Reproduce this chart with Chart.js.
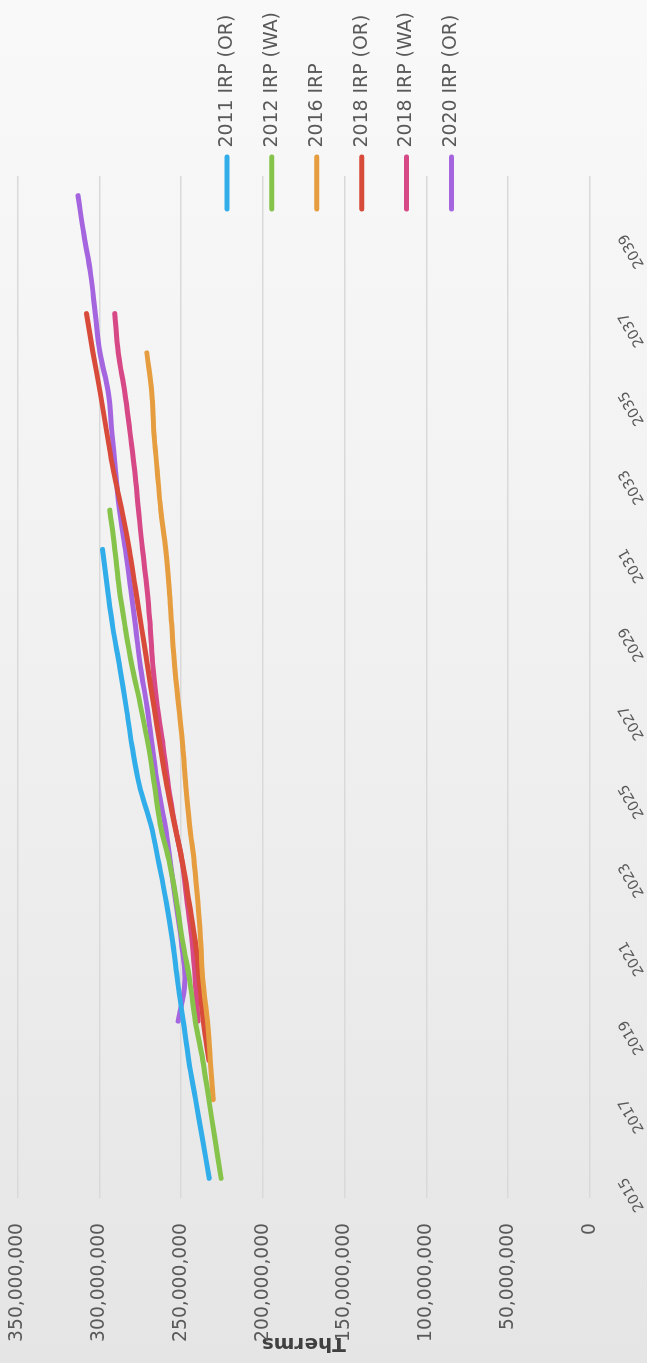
<!DOCTYPE html>
<html>
<head>
<meta charset="utf-8">
<title>Therms forecast by IRP</title>
<script src="https://cdn.jsdelivr.net/npm/chart.js@4.4.1/dist/chart.umd.min.js"></script>
<style>
  html, body { margin: 0; padding: 0; width: 647px; height: 1363px; overflow: hidden; }
  body { background: linear-gradient(to bottom, #f9f9f9 0%, #f1f1f1 45%, #e5e5e5 100%); }
  /* chart is laid out landscape and turned a quarter turn counter-clockwise */
  #wrap {
    position: absolute; left: 0; top: 0;
    width: 1363px; height: 647px;
    transform-origin: 0 0;
    transform: translate(0, 1363px) rotate(-90deg);
  }
</style>
</head>
<body>
<div id="wrap"><canvas id="thermsChart" width="1363" height="647"></canvas></div>
<script>
// years on the category axis (only every other one gets a label)
const years = ['2015', '2016', '2017', '2018', '2019', '2020', '2021', '2022', '2023', '2024', '2025', '2026', '2027',
  '2028', '2029', '2030', '2031', '2032', '2033', '2034', '2035', '2036', '2037', '2038', '2039', '2040'];

// annual therms, in millions
const irp2011OR = [232.8, 236.9, 241.1, 245.3, 248.7, 252.1, 255.1, 258.9, 263.5, 268.5, 275.5, 280.0, 283.6,
  287.5, 291.7, 295.0, 298.0, null, null, null, null, null, null, null, null, null];
const irp2012WA = [225.5, 229.3, 233.0, 236.7, 241.3, 244.6, 248.9, 252.6, 256.9, 262.7, 266.3, 270.0, 274.7,
  279.8, 284.1, 287.8, 290.5, 293.6, null, null, null, null, null, null, null, null];
const irp2016 = [null, null, 230.4, 232.1, 233.9, 236.6, 238.0, 239.7, 241.9, 244.8, 247.1, 249.0, 251.4,
  253.8, 255.6, 257.2, 259.3, 262.4, 264.5, 266.7, 267.9, 270.9, null, null, null, null];
const irp2018OR = [null, null, null, 233.0, 236.4, 238.7, 241.2, 245.0, 249.0, 254.0, 258.8, 262.8, 266.6,
  270.4, 274.1, 277.9, 281.6, 286.2, 291.4, 295.5, 299.5, 303.8, 307.8, null, null, null];
const irp2018WA = [null, null, null, null, 239.6, 241.3, 243.1, 246.2, 249.2, 253.8, 257.8, 261.0, 264.6,
  267.2, 268.8, 270.8, 273.6, 276.0, 278.3, 281.3, 284.4, 288.4, 290.5, null, null, null];
const irp2020OR = [null, null, null, null, 251.8, 247.7, 249.7, 253.1, 256.4, 259.8, 264.3, 267.6, 270.8,
  274.8, 277.7, 280.8, 284.0, 287.6, 290.1, 292.3, 294.5, 299.6, 302.5, 305.3, 309.4, 313.0];

const seriesNames = ['2011 IRP (OR)', '2012 IRP (WA)', '2016 IRP', '2018 IRP (OR)', '2018 IRP (WA)', '2020 IRP (OR)'];
const seriesData = [irp2011OR, irp2012WA, irp2016, irp2018OR, irp2018WA, irp2020OR];
const seriesColors = ['#31aeea', '#85c34b', '#e69d3f', '#d84a3a', '#d64886', '#a465de'];

// value axis: 0 to 350 million in steps of 50 million
const valueMin = 0;
const valueMax = 350;
const valueStep = 50;

Chart.defaults.font.family = '"DejaVu Sans", sans-serif';
Chart.defaults.color = '#595959';

// keep the legend overlapping the right end of the plot
const legendPin = {
  id: 'legendPin',
  afterLayout(chart) {
    const lg = chart.legend;
    lg.left = chart.chartArea.right - 59;
    lg.top = chart.chartArea.top + 174;
    lg.right = chart.width;
    lg.bottom = chart.height;
  }
};

const ctx = document.getElementById('thermsChart').getContext('2d');
new Chart(ctx, {
  type: 'line',
  data: {
    labels: years,
    datasets: seriesNames.map((name, i) => ({
      label: name,
      data: seriesData[i],
      borderColor: seriesColors[i],
      backgroundColor: seriesColors[i],
      borderWidth: 5,
      borderCapStyle: 'round',
      borderJoinStyle: 'round',
      pointRadius: 0,
      pointHoverRadius: 0,
      tension: 0.4,
      fill: false
    }))
  },
  options: {
    responsive: false,
    maintainAspectRatio: false,
    animation: false,
    layout: { padding: { top: 17.5, right: 176, bottom: 0, left: 0 } },
    scales: {
      x: {
        offset: true,
        grid: { display: false, drawTicks: false },
        border: { display: false },
        ticks: {
          autoSkip: false,
          minRotation: 30,
          maxRotation: 30,
          padding: 25,
          font: { size: 14.5 },
          color: '#595959',
          callback: (val, i) => (i % 2 === 0 ? years[i] : '')
        },
        afterFit: (scale) => { scale.height = 57; }
      },
      y: {
        min: valueMin,
        max: valueMax,
        grid: { color: '#d9d9d9', lineWidth: 1.5, drawTicks: false },
        border: { display: false },
        ticks: {
          stepSize: valueStep,
          padding: 25,
          font: { size: 18.7 },
          color: '#595959',
          callback: (v) => (v * 1000000).toLocaleString('en-US')
        },
        title: {
          display: true,
          text: 'Therms',
          color: '#404040',
          font: { size: 20, weight: 'bold' },
          padding: { top: 8, bottom: 0 }
        },
        afterFit: (scale) => {
          scale.width = 165;
          scale.paddingTop = 0;
          scale.paddingBottom = 0;
        }
      }
    },
    plugins: {
      legend: {
        position: 'chartArea',
        align: 'start',
        labels: {
          usePointStyle: true,
          pointStyle: 'line',
          pointStyleWidth: 52,
          padding: 26,
          font: { size: 18.9 },
          color: '#595959',
          generateLabels: (chart) => Chart.defaults.plugins.legend.labels.generateLabels(chart).map((item) => {
            item.lineWidth = 5;
            item.lineCap = 'round';
            item.pointStyle = 'line';
            item.strokeStyle = seriesColors[item.datasetIndex];
            return item;
          })
        }
      },
      tooltip: { enabled: false }
    }
  },
  plugins: [legendPin]
});
</script>
</body>
</html>
